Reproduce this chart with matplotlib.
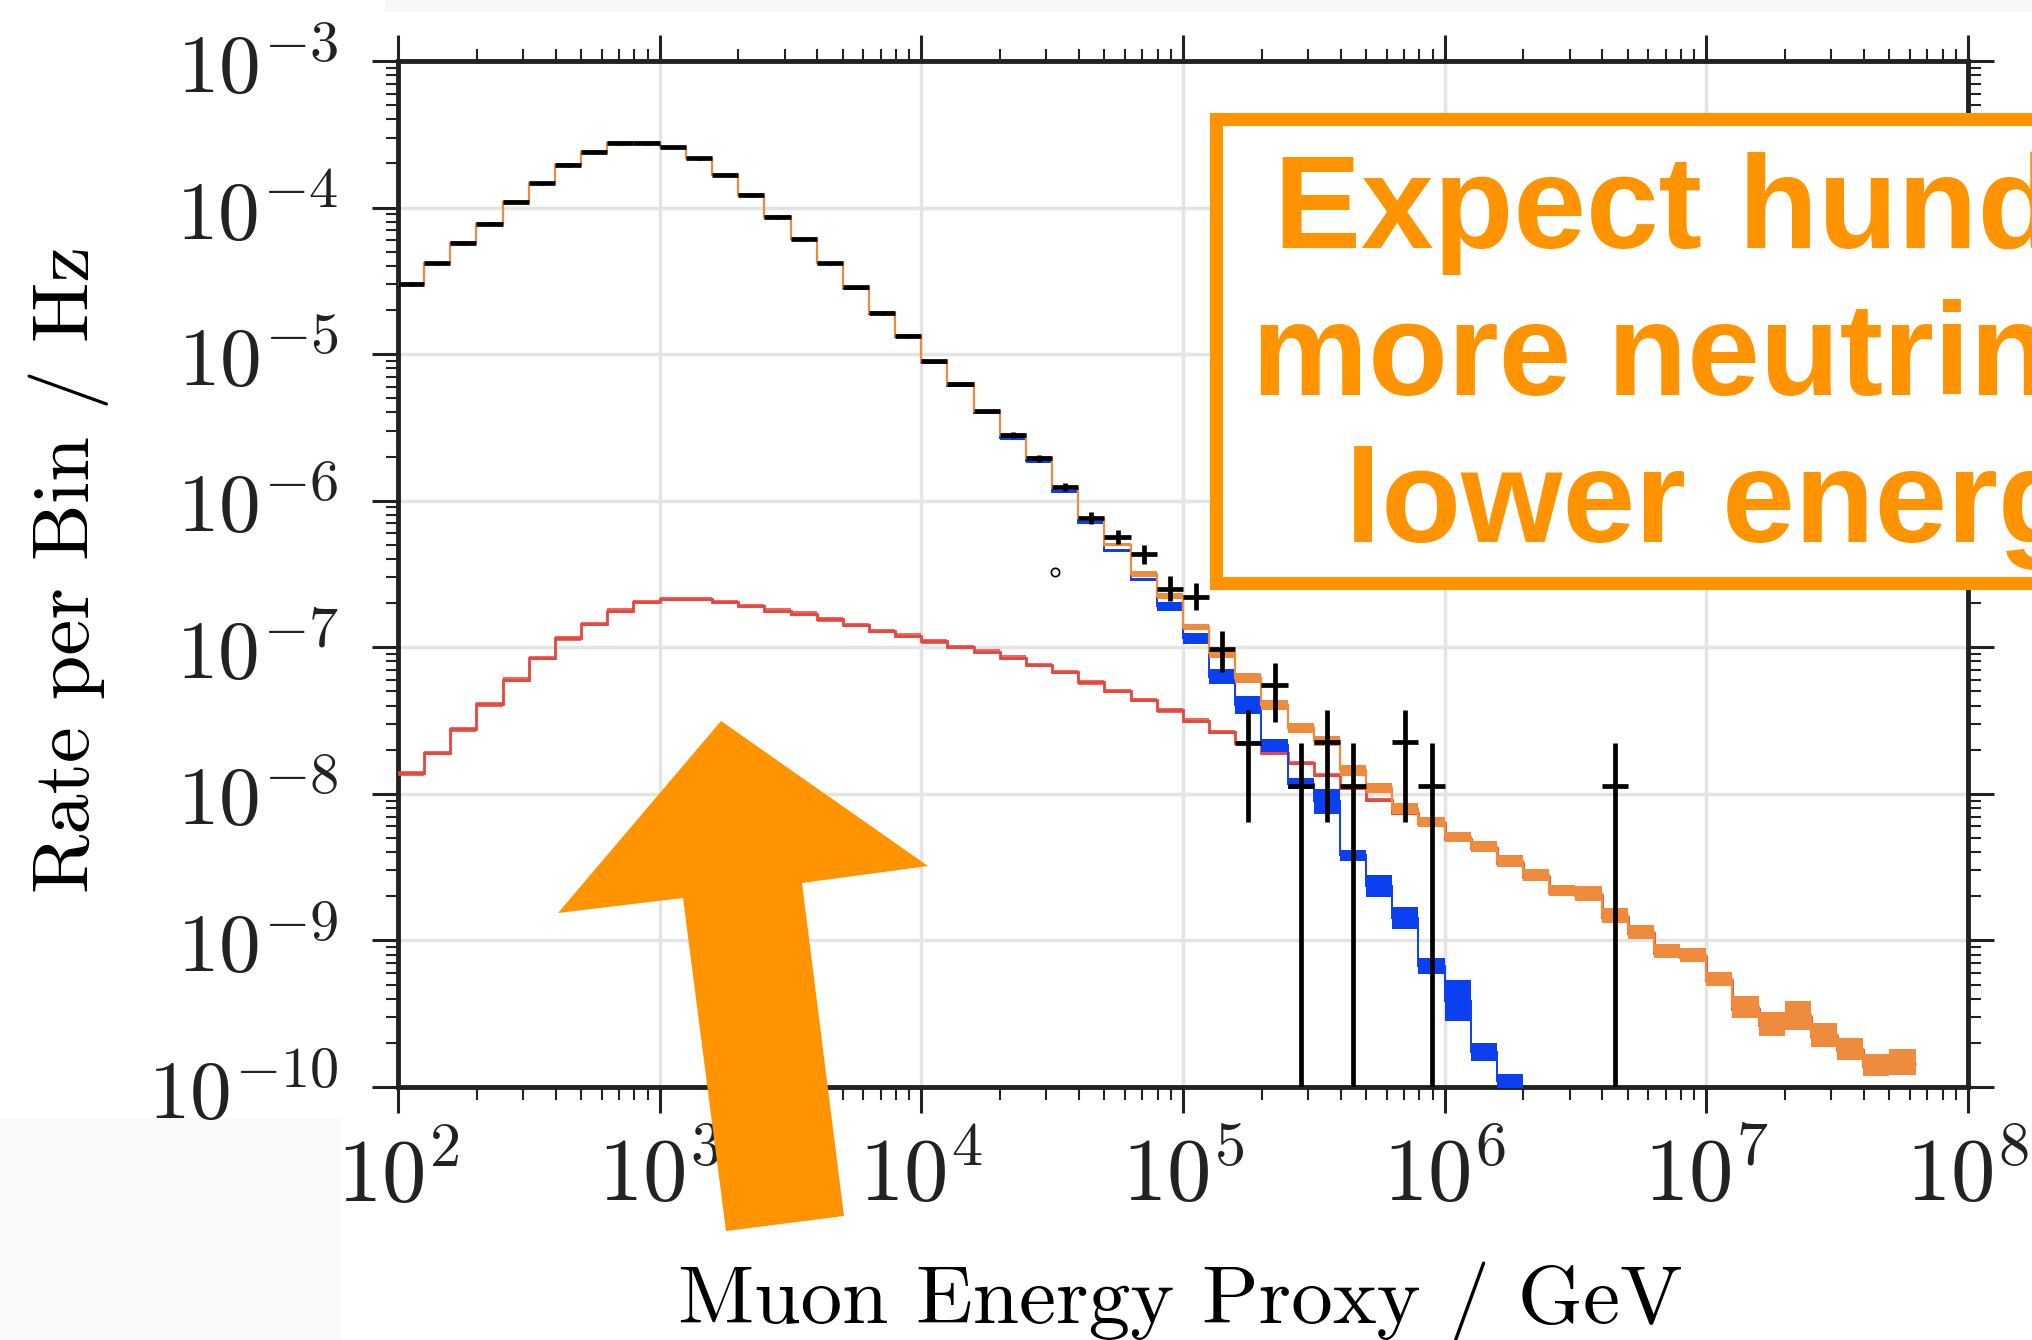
import matplotlib
matplotlib.use("Agg")
import matplotlib.pyplot as plt
import numpy as np
from matplotlib.patches import Polygon, Rectangle
from matplotlib.lines import Line2D
from matplotlib.ticker import FixedLocator, FuncFormatter, LogLocator, NullFormatter

plt.rcParams["mathtext.fontset"] = "cm"

# log10 bin edges of the muon energy proxy (10 bins per decade)
edges_log = np.linspace(2.0, 7.8, 59)

# total MC (conventional + astrophysical), log10 rate per bin / Hz
total_log = [-4.52, -4.38, -4.24, -4.11, -3.96, -3.835, -3.71, -3.62, -3.56, -3.56,
             -3.59, -3.665, -3.775, -3.915, -4.065, -4.215, -4.38, -4.545, -4.72, -4.875,
             -5.05, -5.205, -5.39, -5.55, -5.71, -5.91, -6.12, -6.30, -6.50, -6.65,
             -6.86, -7.04, -7.21, -7.395, -7.55, -7.64, -7.84, -7.96, -8.10, -8.19,
             -8.295, -8.36, -8.46, -8.555, -8.66, -8.68, -8.83, -8.94, -9.075, -9.10,
             -9.26, -9.455, -9.57, -9.51, -9.645, -9.74, -9.85, -9.83]
total_hw = ([0.012] * 28 + [0.02] * 3 + [0.035] * 11 + [0.04] * 3 + [0.048] * 6
            + [0.075, 0.08, 0.1, 0.08, 0.075, 0.076, 0.09])

# conventional atmospheric
conv_log = [-4.52, -4.38, -4.24, -4.11, -3.96, -3.835, -3.71, -3.62, -3.56, -3.56,
            -3.59, -3.665, -3.775, -3.915, -4.065, -4.215, -4.38, -4.55, -4.725, -4.88,
            -5.055, -5.215, -5.40, -5.575, -5.73, -5.94, -6.15, -6.34, -6.54, -6.72,
            -6.94, -7.20, -7.395, -7.67, -7.93, -8.05, -8.42, -8.63, -8.845, -9.175,
            -9.41, -9.76, -9.96]
conv_hw = [0.01] * 29 + [0.03, 0.04, 0.05, 0.06, 0.045, 0.04, 0.085, 0.04, 0.075, 0.075,
                         0.055, 0.14, 0.06, 0.05]

# astrophysical
astro_log = [-7.86, -7.72, -7.56, -7.39, -7.22, -7.075, -6.94, -6.84, -6.75, -6.69,
             -6.67, -6.67, -6.69, -6.72, -6.75, -6.77, -6.81, -6.85, -6.89, -6.92,
             -6.96, -7.0, -7.03, -7.07, -7.12, -7.17, -7.24, -7.30, -7.36, -7.43,
             -7.50, -7.58, -7.655, -7.72, -7.79, -7.87, -7.96, -8.04, -8.13, -8.20,
             -8.31, -8.37, -8.47, -8.565, -8.67, -8.69, -8.84, -8.95, -9.085, -9.11,
             -9.27, -9.465, -9.58, -9.52, -9.655, -9.75, -9.86, -9.84]
astro_hw = 0.015

# experimental data
data_bins = list(range(32)) + [32, 33, 34, 35, 36, 38, 39, 46]
data_log = [-4.52, -4.38, -4.24, -4.11, -3.96, -3.835, -3.71, -3.62, -3.56, -3.56,
            -3.59, -3.665, -3.775, -3.915, -4.065, -4.215, -4.38, -4.545, -4.72, -4.875,
            -5.05, -5.205, -5.39, -5.553, -5.71, -5.907, -6.117, -6.248, -6.366, -6.60,
            -6.654, -7.014, -7.655, -7.258, -7.945, -7.649, -7.945, -7.649, -7.945, -7.945]
data_up = [0.012] * 23 + [0.02, 0.025, 0.03, 0.04, 0.05, 0.065, 0.085, 0.09, 0.128,
                          0.229, 0.153, 0.29, 0.223, 0.29, 0.223, 0.29, 0.29]
data_dn = [0.012] * 23 + [0.02, 0.025, 0.03, 0.04, 0.05, 0.065, 0.085, 0.09, 0.156,
                          0.535, 0.25, 5.0, 0.541, 5.0, 0.541, 5.0, 5.0]

C_TOT = "#ee8b3c"
C_CONV = "#0a3ff2"
C_ASTRO = "#e8453c"
C_NOTE = "#ff9300"

W, H = 2033, 1340
fig = plt.figure(figsize=(W / 100, H / 100), dpi=100)

# faint scan backgrounds in the source picture
fig.add_artist(Rectangle((385 / W, 1 - 12 / H), 1, 12 / H, transform=fig.transFigure,
                         color="#f6f7f6", lw=0, zorder=0))
fig.add_artist(Rectangle((0, 0), 341 / W, 1 - 1118 / H, transform=fig.transFigure,
                         color="#f8faf8", lw=0, zorder=0))

ax = fig.add_axes([398 / W, 1 - 1087 / H, 1570 / W, 1026 / H])
ax.set_facecolor("none")


def band(vals, hw, color, lw, z, alpha=1.0):
    v = np.asarray(vals, float)
    n = len(v)
    x = 10 ** edges_log[:n + 1]
    w = np.broadcast_to(np.asarray(hw, float), v.shape)
    lo = np.append(10 ** (v - w), 10 ** (v[-1] - w[-1]))
    hi = np.append(10 ** (v + w), 10 ** (v[-1] + w[-1]))
    ax.fill_between(x, lo, hi, step="post", color=color, lw=0, alpha=alpha, zorder=z)
    ax.stairs(10 ** v, x, baseline=None, color=color, lw=lw, zorder=z + 0.1)


band(astro_log, astro_hw, C_ASTRO, 2.0, 3, alpha=0.8)
band(conv_log, conv_hw, C_CONV, 1.4, 4)
band(total_log, total_hw, C_TOT, 1.6, 5)

idx = np.array(data_bins)
dv = np.array(data_log)
xc = 10 ** ((edges_log[idx] + edges_log[idx + 1]) / 2)
xl = xc - 10 ** edges_log[idx]
xr = 10 ** edges_log[idx + 1] - xc
yv = 10 ** dv
yerr = [yv - 10 ** (dv - np.array(data_dn)), 10 ** (dv + np.array(data_up)) - yv]
ax.errorbar(xc, yv, xerr=[xl, xr], yerr=yerr, fmt="none", ecolor="black",
            elinewidth=3.4, capsize=0, zorder=6)

ax.set_xscale("log")
ax.set_yscale("log")
ax.set_xlim(1e2, 1e8)
ax.set_ylim(1e-10, 1e-3)

ax.xaxis.set_major_locator(FixedLocator([10.0 ** k for k in range(2, 9)]))
ax.yaxis.set_major_locator(FixedLocator([10.0 ** k for k in range(-10, -2)]))
ax.xaxis.set_minor_locator(LogLocator(base=10, subs=np.arange(2, 10), numticks=20))
ax.yaxis.set_minor_locator(LogLocator(base=10, subs=np.arange(2, 10), numticks=20))
fmt = FuncFormatter(lambda v, p: r"$10^{%d}$" % round(np.log10(v)))
ax.xaxis.set_major_formatter(fmt)
ax.yaxis.set_major_formatter(fmt)
ax.xaxis.set_minor_formatter(NullFormatter())
ax.yaxis.set_minor_formatter(NullFormatter())

ax.grid(True, which="major", color="#e4e4e4", lw=2.5, zorder=0)
ax.set_axisbelow(True)
for s in ax.spines.values():
    s.set_linewidth(3.5)
    s.set_color("#222222")
ax.tick_params(which="both", direction="out", top=True, right=True, colors="#222222")
ax.tick_params(which="major", length=19, width=2.2)
ax.tick_params(which="minor", length=9, width=1.5)
ax.tick_params(axis="x", which="major", labelsize=64, pad=14)
ax.tick_params(axis="y", which="major", labelsize=60, pad=24)

ax.set_xlabel("Muon Energy Proxy / GeV", fontfamily="cmr10", fontsize=60, va="center")
ax.xaxis.set_label_coords(0.498, -0.21)
ax.set_ylabel("Rate per Bin / Hz", fontfamily="cmr10", fontsize=58, va="center")
ax.yaxis.set_label_coords(-0.21, 0.504)

# stray small ring in the source
fig.add_artist(Line2D([1055 / W], [1 - 572 / H], marker="o", ms=6, mfc="none",
                      mec="black", mew=1.2, transform=fig.transFigure))

# annotation box (cut off at the right edge in the source)
fig.add_artist(Rectangle((1216 / W, 1 - 583 / H), 1.0, (583 - 119) / H,
                         transform=fig.transFigure, facecolor="white",
                         edgecolor=C_NOTE, lw=9.4, zorder=10))
note_lines = ["Expect hundreds", "more neutrinos at", "lower energies"]
note_x = [1274, 1252, 1345]
note_base = [248, 395, 542]
for t, xp, yb in zip(note_lines, note_x, note_base):
    fig.text(xp / W, 1 - yb / H, t, ha="left", va="baseline", color=C_NOTE,
             fontsize=94, fontweight="bold",
             family=["Liberation Sans Narrow", "Liberation Sans", "DejaVu Sans"],
             zorder=11)

# big arrow
arrow_px = [(721, 721), (928, 866), (802, 883), (844, 1216), (726, 1231),
            (683, 898), (558, 913)]
fig.add_artist(Polygon([(x / W, 1 - y / H) for x, y in arrow_px], closed=True,
                       transform=fig.transFigure, color=C_NOTE, lw=0, zorder=12))

fig.savefig("out.png", dpi=100, facecolor="white")
